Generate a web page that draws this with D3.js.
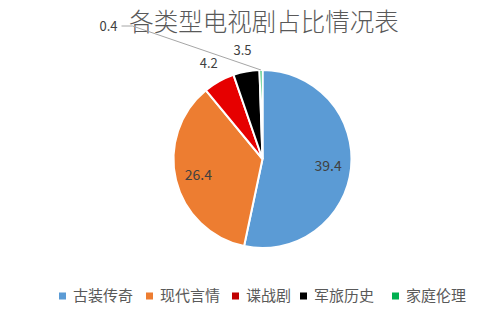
<!doctype html>
<head>
  <meta charset="utf-8">
  <script src="https://cdnjs.cloudflare.com/ajax/libs/d3/7.8.2/d3.min.js"></script>
</head>
<style>
    html, body { margin: 0; padding: 0; background: #fff; }
    text { font-family: "Noto Sans CJK SC", "Noto Sans", sans-serif; }
</style>
<body>
    <div id="chart"></div>
    <script>
        // Datos
        const categories = ["古装传奇", "现代言情", "谍战剧", "军旅历史", "家庭伦理"];
        const values = [39.4, 26.4, 4.2, 3.5, 0.4];
        const colors = ["#5b9bd5", "#ed7d31", "url(#redGrad)", "#000000", "#00b050"];
        const legendColors = ["#5b9bd5", "#ed7d31", "#c00000", "#000000", "#00b050"];
        const title = "各类型电视剧占比情况表";

        const width = 484, height = 324;
        const cx = 262.5, cy = 159, radius = 89;

        const svg = d3.select('#chart')
            .append('svg')
            .attr('width', width)
            .attr('height', height);

        // degradado del sector rojo
        const grad = svg.append('defs').append('radialGradient')
            .attr('id', 'redGrad')
            .attr('gradientUnits', 'userSpaceOnUse')
            .attr('cx', cx).attr('cy', cy).attr('r', radius);
        grad.append('stop').attr('offset', '0%').attr('stop-color', '#6a0000');
        grad.append('stop').attr('offset', '100%').attr('stop-color', '#e60000');

        // Título
        svg.append('text')
            .attr('x', 264)
            .attr('y', 31)
            .attr('text-anchor', 'middle')
            .attr('font-size', 24.5)
            .attr('font-weight', 300)
            .attr('fill', '#595959')
            .text(title);

        const data = categories.map((c, i) => ({ name: c, value: values[i], i }));

        const pie = d3.pie().value(d => d.value).sort(null);
        const arcs = pie(data);

        const arc = d3.arc().innerRadius(0).outerRadius(radius);
        const inLabel = d3.arc().innerRadius(66).outerRadius(66);
        const outLabel = d3.arc().innerRadius(110).outerRadius(110);
        const edge = d3.arc().innerRadius(radius).outerRadius(radius);

        const g = svg.append('g').attr('transform', `translate(${cx},${cy})`);

        g.selectAll('.arc')
            .data(arcs)
            .enter()
            .append('path')
            .attr('d', arc)
            .attr('fill', (d, i) => colors[i])
            .attr('stroke', '#fff')
            .attr('stroke-width', 2);

        // Etiquetas: los dos grandes dentro, los pequeños fuera
        const big = d => d.data.value > 10;

        g.selectAll('.lbl')
            .data(arcs.filter(d => d.data.value >= 1))
            .enter()
            .append('text')
            .attr('transform', d => `translate(${(big(d) ? inLabel : outLabel).centroid(d)})`)
            .attr('text-anchor', 'middle')
            .attr('dy', '0.35em')
            .attr('font-size', d => big(d) ? 14 : 13)
            .attr('fill', '#404040')
            .text(d => d.data.value);

        // 0.4 con línea guía (etiqueta desplazada)
        const tiny = arcs[4];
        const p0 = edge.centroid(tiny);
        const lx = -160, ly = -133;
        g.append('polyline')
            .attr('points', [[p0[0], p0[1]], [lx + 30, ly], [lx + 19, ly]].map(p => p.join(',')).join(' '))
            .attr('fill', 'none')
            .attr('stroke', '#a6a6a6')
            .attr('stroke-width', 1);
        g.append('text')
            .attr('x', lx + 15)
            .attr('y', ly)
            .attr('dy', '0.35em')
            .attr('text-anchor', 'end')
            .attr('font-size', 13)
            .attr('fill', '#404040')
            .text(tiny.data.value);

        // Leyenda
        const legendX = [59, 146, 232, 300, 392];
        const legend = svg.append('g').attr('transform', 'translate(0,296)');
        const items = legend.selectAll('.item')
            .data(categories)
            .enter()
            .append('g')
            .attr('transform', (d, i) => `translate(${legendX[i]},0)`);
        items.append('rect')
            .attr('x', 0).attr('y', -3.5)
            .attr('width', 7).attr('height', 7)
            .attr('fill', (d, i) => legendColors[i]);
        items.append('text')
            .attr('x', 14)
            .attr('dy', '0.35em')
            .attr('font-size', 15)
            .attr('fill', '#595959')
            .text(d => d);
    </script>
</body>
